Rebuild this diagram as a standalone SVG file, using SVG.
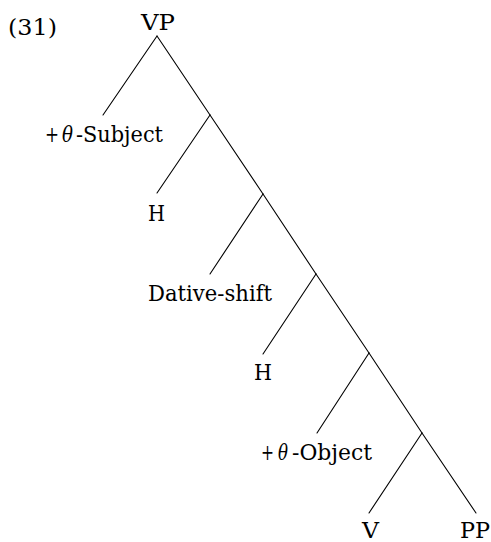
<svg xmlns="http://www.w3.org/2000/svg" width="491" height="542" viewBox="0 0 491 542">
<style>
line{stroke:#000;stroke-width:1.1;stroke-linecap:round}
text{font-family:'DejaVu Serif',serif;font-size:22px;fill:#000}
.it{font-style:italic}
</style>
<rect width="491" height="542" fill="#fff"/>
<text id="label" x="8" y="35" textLength="49" lengthAdjust="spacingAndGlyphs">(31)</text>
<g id="edges">
<line x1="157" y1="36" x2="103" y2="115"/>
<line x1="157" y1="36" x2="210" y2="115"/>
<line x1="210" y1="115" x2="157" y2="193"/>
<line x1="210" y1="115" x2="263" y2="194"/>
<line x1="263" y1="194" x2="210" y2="274"/>
<line x1="263" y1="194" x2="316" y2="274"/>
<line x1="316" y1="274" x2="263" y2="354"/>
<line x1="316" y1="274" x2="369" y2="353"/>
<line x1="369" y1="353" x2="317" y2="433"/>
<line x1="369" y1="353" x2="422" y2="433"/>
<line x1="422" y1="433" x2="369" y2="513"/>
<line x1="422" y1="433" x2="476" y2="513"/>
</g>
<g id="n-vp"><text x="141" y="30" textLength="34" lengthAdjust="spacingAndGlyphs">VP</text></g>
<g id="n-subject">
<text x="45" y="142" textLength="14" lengthAdjust="spacingAndGlyphs">+</text>
<text class="it" x="62" y="142" textLength="11" lengthAdjust="spacingAndGlyphs">θ</text>
<text x="76" y="142" textLength="87" lengthAdjust="spacingAndGlyphs">-Subject</text>
</g>
<g id="n-h1"><text x="148" y="221" textLength="17" lengthAdjust="spacingAndGlyphs">H</text></g>
<g id="n-dative"><text x="148" y="301" textLength="124" lengthAdjust="spacingAndGlyphs">Dative-shift</text></g>
<g id="n-h2"><text x="254" y="380" textLength="18" lengthAdjust="spacingAndGlyphs">H</text></g>
<g id="n-object">
<text x="261" y="460" textLength="13" lengthAdjust="spacingAndGlyphs">+</text>
<text class="it" x="278" y="460" textLength="10" lengthAdjust="spacingAndGlyphs">θ</text>
<text x="292" y="460" textLength="80" lengthAdjust="spacingAndGlyphs">-Object</text>
</g>
<g id="n-v"><text x="362" y="538" textLength="17" lengthAdjust="spacingAndGlyphs">V</text></g>
<g id="n-pp"><text x="460" y="538" textLength="30" lengthAdjust="spacingAndGlyphs">PP</text></g>
</svg>
